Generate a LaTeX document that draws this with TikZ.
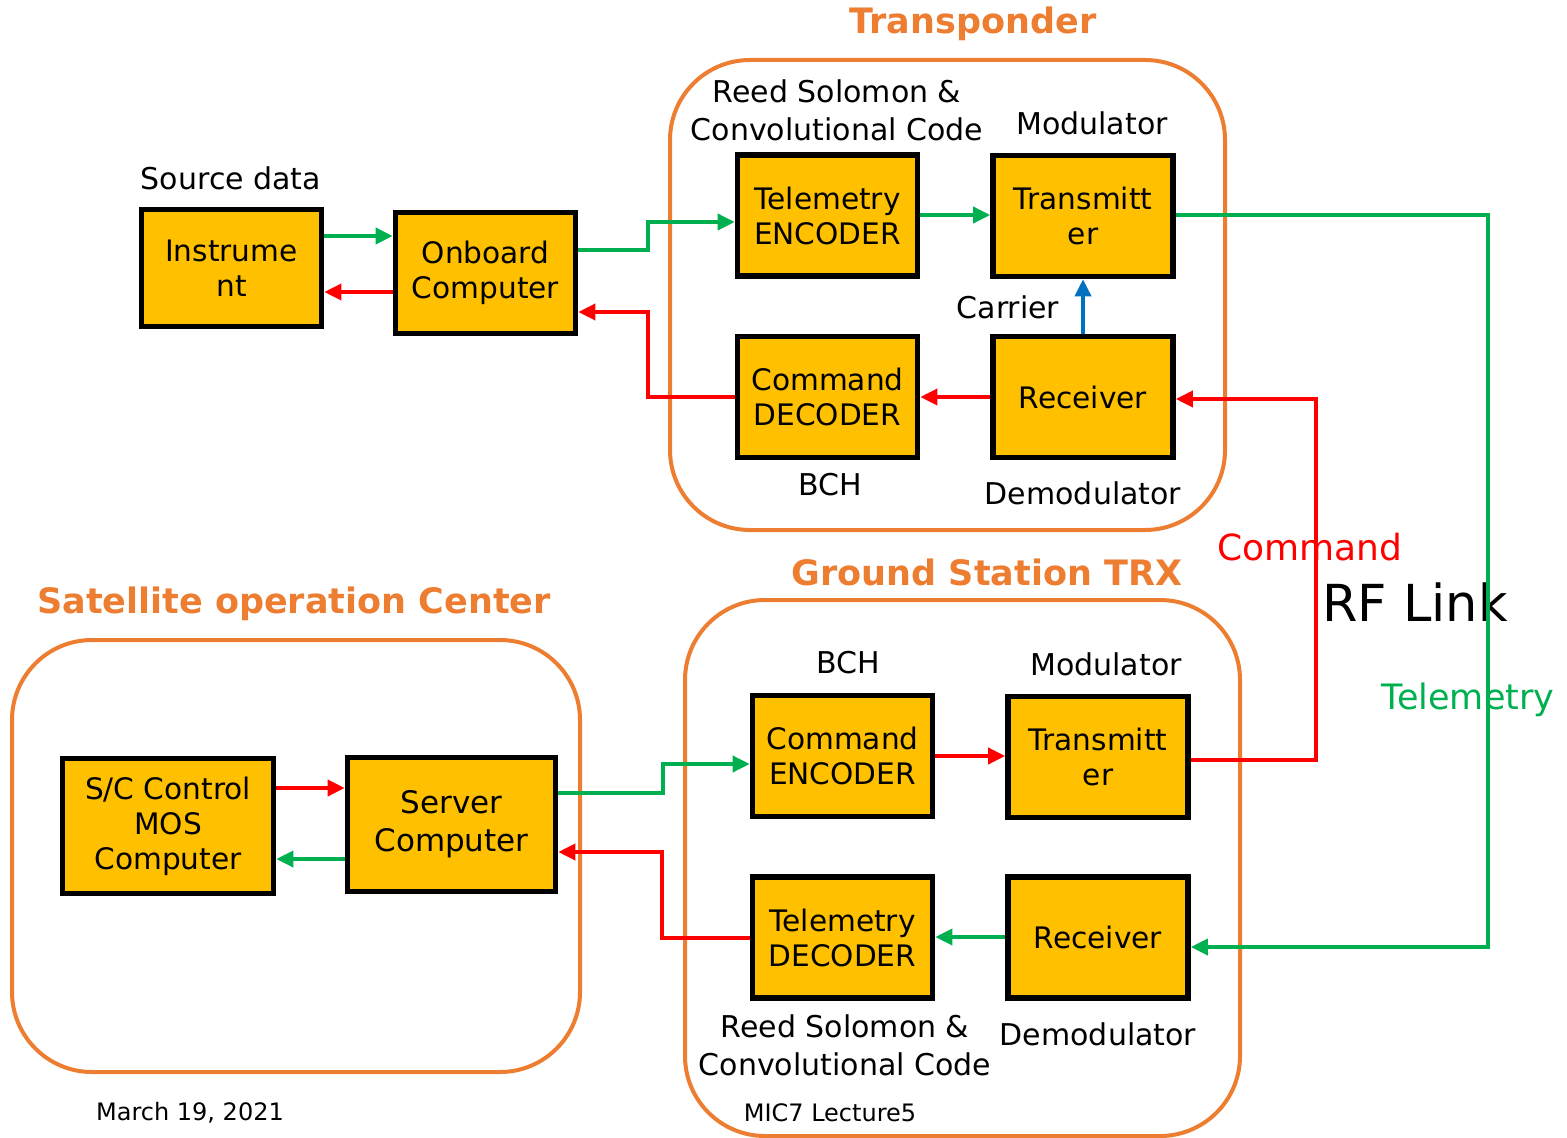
\documentclass[tikz,border=0pt]{standalone}
\usepackage{fontspec}
\setmainfont{DejaVu Sans}
\usetikzlibrary{arrows.meta}
\definecolor{orng}{HTML}{ED7D31}
\definecolor{boxfill}{HTML}{FFC000}
\definecolor{gr}{HTML}{00B050}
\definecolor{rd}{HTML}{FF0000}
\definecolor{bl}{HTML}{0070C0}
\begin{document}
\begin{tikzpicture}[x=0.5pt,y=-0.5pt,
  blk/.style={draw=black, line width=2.8pt, fill=boxfill, minimum width=90pt, minimum height=60.5pt, inner sep=0pt, align=center, font=\fontsize{14.8}{17.5}\selectfont},
  lbl/.style={font=\fontsize{15}{19}\selectfont, align=center, inner sep=0pt},
  grp/.style={draw=orng, line width=2pt, rounded corners=40pt},
  ttl/.style={font=\fontsize{17.5}{21}\selectfont\bfseries, text=orng, inner sep=0pt},
  con/.style={line width=1.8pt, -{Triangle[length=8.5pt,width=8pt]}},
  gcon/.style={con, draw=gr},
  rcon/.style={con, draw=rd},
  bcon/.style={con, draw=bl}]
\useasboundingbox (0,0) rectangle (1567,1138);

% group frames
\draw[grp] (670,60) rectangle (1225,530);
\draw[grp] (685,600) rectangle (1240,1136);
\draw[grp] (12,640) rectangle (580,1072);

% titles
\node[ttl] (tTransp) at (973,24) {Transponder};
\node[ttl] (tGround) at (987,572) {Ground Station TRX};
\node[ttl] (tSat) at (294,604) {Satellite operation Center};

% blocks
\node[blk, minimum height=58.5pt] (inst) at (231.5,268) {Instrume\\nt};
\node[blk] (obc) at (485.5,273) {Onboard\\Computer};
\node[blk] (tenc) at (827.5,215.5) {Telemetry\\ENCODER};
\node[blk] (ttx) at (1083,216) {Transmitt\\er};
\node[blk] (cdec) at (827.5,397) {Command\\DECODER};
\node[blk] (trx) at (1083,397) {Receiver};
\node[blk, minimum width=105.5pt, minimum height=67.5pt] (sc) at (168,826) {S/C Control\\MOS\\Computer};
\node[blk, minimum width=104pt, minimum height=67pt, font=\fontsize{15.5}{19}\selectfont] (srv) at (451.5,824.5) {Server\\Computer};
\node[blk] (cenc) at (842.5,756) {Command\\ENCODER};
\node[blk] (gtx) at (1098,757) {Transmitt\\er};
\node[blk] (tdec) at (842.5,937.5) {Telemetry\\DECODER};
\node[blk] (grx) at (1098,937.5) {Receiver};

% labels
\node[lbl] (lSrc) at (231,178) {Source data};
\node[lbl] (lRS1) at (837,110) {Reed Solomon \&\\Convolutional Code};
\node[lbl] (lMod1) at (1092,123) {Modulator};
\node[lbl] (lCar) at (1008,307) {Carrier};
\node[lbl] (lBCH1) at (830,485) {BCH};
\node[lbl] (lDem1) at (1083,493) {Demodulator};
\node[lbl] (lBCH2) at (848,663) {BCH};
\node[lbl] (lMod2) at (1106,664) {Modulator};
\node[lbl] (lRS2) at (845,1045) {Reed Solomon \&\\Convolutional Code};
\node[lbl] (lDem2) at (1098,1034) {Demodulator};
\node[lbl, text=rd, font=\fontsize{18}{21}\selectfont] (lCmd) at (1310,547) {Command};
\node[lbl, font=\fontsize{25.5}{30}\selectfont] (lRF) at (1415,602) {RF Link};
\node[lbl, text=gr, font=\fontsize{17.5}{21}\selectfont] (lTlm) at (1468,700) {Telemetry};
\node[lbl, font=\fontsize{12}{14}\selectfont] (lDate) at (190,1113) {March 19, 2021};
\node[lbl, font=\fontsize{12}{14}\selectfont] (lLec) at (830,1113) {MIC7 Lecture5};

% connectors (satellite)
\draw[gcon] (inst.east |- 0,236) -- (obc.west |- 0,236);
\draw[rcon] (obc.west |- 0,292) -- (inst.east |- 0,292);
\draw[gcon] (obc.east |- 0,250) -- (648,250) -- (648,222) -- (tenc.west |- 0,222);
\draw[rcon] (cdec.west |- 0,397) -- (648,397) -- (648,312) -- (obc.east |- 0,312);
\draw[gcon] (tenc.east |- 0,215) -- (ttx.west |- 0,215);
\draw[rcon] (trx.west) -- (cdec.east);
\draw[bcon] (trx.north) -- (ttx.south);

% RF link
\draw[gcon] (ttx.east |- 0,215) -- (1488,215) -- (1488,947) -- (grx.east |- 0,947);
\draw[rcon] (gtx.east |- 0,760) -- (1316,760) -- (1316,399) -- (trx.east |- 0,399);

% connectors (ground)
\draw[gcon] (srv.east |- 0,793) -- (663,793) -- (663,764) -- (cenc.west |- 0,764);
\draw[rcon] (tdec.west |- 0,938) -- (662,938) -- (662,852) -- (srv.east |- 0,852);
\draw[rcon] (cenc.east |- 0,756) -- (gtx.west |- 0,756);
\draw[gcon] (grx.west |- 0,937) -- (tdec.east |- 0,937);
\draw[rcon] (sc.east |- 0,788) -- (srv.west |- 0,788);
\draw[gcon] (srv.west |- 0,859) -- (sc.east |- 0,859);
\end{tikzpicture}
\end{document}
